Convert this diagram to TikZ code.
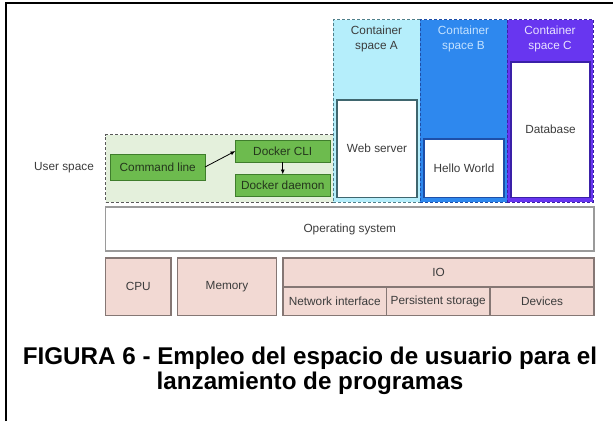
\documentclass[tikz,border=0pt]{standalone}
\usepackage{fontspec}
\setmainfont{Liberation Sans}
\usetikzlibrary{arrows.meta}
\definecolor{txt}{HTML}{3C3C3C}
\definecolor{usrbg}{HTML}{E4F0DC}
\definecolor{grn}{HTML}{6DBB4E}
\definecolor{grnline}{HTML}{3F7D2C}
\definecolor{grntxt}{HTML}{24361C}
\definecolor{cAbg}{HTML}{B5EEFB}
\definecolor{cAline}{HTML}{4F7F8A}
\definecolor{cBbg}{HTML}{2E88EE}
\definecolor{cBline}{HTML}{1E4FA8}
\definecolor{cBtxt}{HTML}{C4E2FF}
\definecolor{cCbg}{HTML}{6836F0}
\definecolor{cCline}{HTML}{3A20A8}
\definecolor{cCtxt}{HTML}{E8E2FF}
\definecolor{hwbg}{HTML}{F2D9D3}
\definecolor{hwline}{HTML}{857774}
\definecolor{osline}{HTML}{9A9A9A}
\tikzset{
  x=1pt, y=-1pt,
  every node/.style={font=\fontsize{11.8}{13}\selectfont, text=txt, inner sep=0pt, outer sep=0pt, align=center},
  dashbox/.style={draw=#1, dash pattern=on 3pt off 2pt, line width=1pt},
  greenbox/.style={draw=grnline, fill=grn, line width=1pt, text=grntxt},
  inbox/.style={draw=#1, fill=white, line width=1.2pt},
  hwbox/.style={draw=hwline, fill=hwbg, line width=1.2pt},
  conn/.style={draw=black, line width=0.8pt, -{Latex[length=5pt,width=4pt]}},
  ctitle/.style={anchor=north, yshift=-6.5pt, text=#1, align=center, font=\fontsize{11.8}{15}\selectfont},
}
\begin{document}
\begin{tikzpicture}
\useasboundingbox (0,0) rectangle (613,421);
\fill[white] (0,0) rectangle (613,421);
% frame
\draw[line width=2pt] (6,421) -- (6,2.5) -- (613,2.5);

% user space
\node[dashbox=gray!70!black, fill=usrbg, minimum width=227.5pt, minimum height=67.5pt] (usr) at (219.25,168.25) {};
\node (usrlbl) at (64,168) {User space};
\node[greenbox, minimum width=94.5pt, minimum height=26pt] (cmd) at (157.75,167) {Command line};
\node[greenbox, minimum width=94.5pt, minimum height=22pt] (cli) at (282.75,151) {Docker CLI};
\node[greenbox, minimum width=94.5pt, minimum height=22pt] (dmn) at (282.75,185.5) {Docker daemon};
\draw[conn] (cmd.east) -- (cli.west);
\draw[conn] (cli.south) -- (dmn.north);

% containers
\node[dashbox=cAline, fill=cAbg, minimum width=87pt, minimum height=182.5pt,
  label={[ctitle=txt]north:{Container\\space A}}] (cA) at (376.5,110.75) {};
\node[dashbox=cBline, fill=cBbg, minimum width=87pt, minimum height=182.5pt,
  label={[ctitle=cBtxt]north:{Container\\space B}}] (cB) at (463.5,110.75) {};
\node[dashbox=cCline, fill=cCbg, minimum width=86pt, minimum height=182.5pt,
  label={[ctitle=cCtxt]north:{Container\\space C}}] (cC) at (550,110.75) {};
\node[inbox=cAline!80!black, minimum width=80pt, minimum height=97.5pt] (web) at (377,148.75) {Web server};
\node[inbox=cBline, minimum width=80pt, minimum height=58.5pt] (hello) at (464,168.25) {Hello World};
\node[inbox=cCline, minimum width=79pt, minimum height=135.5pt] (db) at (550.5,129.75) {Database};

% operating system
\node[draw=osline, fill=white, line width=1.5pt, minimum width=488.5pt, minimum height=44pt] (os) at (349.75,229) {Operating system};

% hardware
\node[hwbox, minimum width=65.5pt, minimum height=57.5pt] (cpu) at (138.25,286.75) {CPU};
\node[hwbox, minimum width=99pt, minimum height=57.5pt] (mem) at (227,286.75) {Memory};
\node[hwbox, minimum width=311pt, minimum height=29pt] (io) at (438.5,272.5) {IO};
\node[hwbox, minimum width=103.5pt, minimum height=28.5pt] (net) at (334.75,301.25) {Network interface};
\node[hwbox, minimum width=103.5pt, minimum height=28.5pt] (pers) at (438.25,301.25) {Persistent storage};
\node[hwbox, minimum width=104pt, minimum height=28.5pt] (dev) at (542,301.25) {Devices};

% caption
\node[font=\fontsize{24.2}{24.5}\selectfont\bfseries, text=black] (cap) at (310,371)
  {FIGURA 6 - Empleo del espacio de usuario para el\\lanzamiento de programas};
\end{tikzpicture}
\end{document}
